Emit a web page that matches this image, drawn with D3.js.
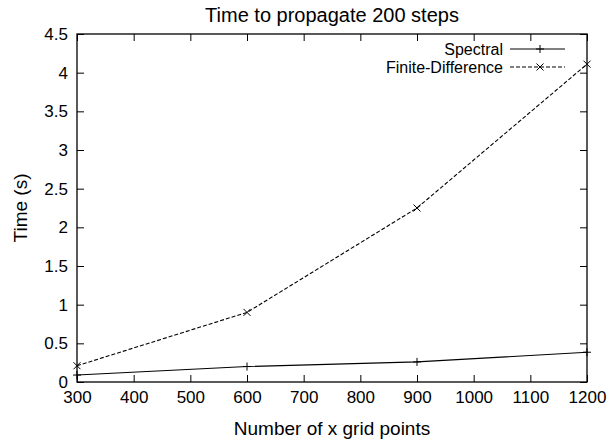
<!DOCTYPE html>
<html>
<head>
<meta charset="utf-8">
<script src="https://cdn.jsdelivr.net/npm/d3@7"></script>
<style>
  body { margin: 0; background: #fff; }
  svg { font-family: "Liberation Sans", Arial, sans-serif; }
  text { fill: #000; }
</style>
</head>
<body>
<svg width="611" height="442"></svg>
<script>
// data
var gridPoints = [300, 600, 900, 1200];
var spectral   = [0.09, 0.20, 0.26, 0.385];
var finiteDiff = [0.21, 0.90, 2.25, 4.11];
var xTicks = [300, 400, 500, 600, 700, 800, 900, 1000, 1100, 1200];
var yTicks = [0, 0.5, 1, 1.5, 2, 2.5, 3, 3.5, 4, 4.5];

var svg = d3.select("svg"),
    margin = {top: 34, right: 24, bottom: 60, left: 77},
    width = 611 - margin.left - margin.right,
    height = 442 - margin.top - margin.bottom,
    g = svg.append("g").attr("transform", "translate(" + margin.left + "," + margin.top + ")");

var x = d3.scaleLinear().domain([300, 1200]).range([0, width]);
var y = d3.scaleLinear().domain([0, 4.5]).range([height, 0]);

var tickLen = 7;

function styleLabels(a) {
    a.select(".domain").remove();
    a.selectAll("text").attr("font-size", 17).attr("fill", "#000").attr("font-family", null);
}

// bottom ticks + labels
g.append("g")
    .attr("transform", "translate(0," + height + ")")
    .call(d3.axisBottom(x).tickValues(xTicks).tickSizeInner(-tickLen).tickSizeOuter(0).tickPadding(9).tickFormat(d3.format("d")))
    .call(styleLabels);
// top mirrored ticks
g.append("g")
    .call(d3.axisTop(x).tickValues(xTicks).tickSizeInner(-tickLen).tickSizeOuter(0).tickFormat(""))
    .call(function(a) { a.select(".domain").remove(); });
// left ticks + labels
g.append("g")
    .call(d3.axisLeft(y).tickValues(yTicks).tickSizeInner(-tickLen).tickSizeOuter(0).tickPadding(9).tickFormat(d3.format("")))
    .call(styleLabels);
// right mirrored ticks
g.append("g")
    .attr("transform", "translate(" + width + ",0)")
    .call(d3.axisRight(y).tickValues(yTicks).tickSizeInner(-tickLen).tickSizeOuter(0).tickFormat(""))
    .call(function(a) { a.select(".domain").remove(); });

// border
g.append("rect")
    .attr("width", width).attr("height", height)
    .attr("fill", "none").attr("stroke", "#000").attr("stroke-width", 1.3);

var line = d3.line()
    .x(function(d, i) { return x(gridPoints[i]); })
    .y(function(d) { return y(d); });

g.append("path").datum(spectral)
    .attr("d", line).attr("fill", "none").attr("stroke", "#000").attr("stroke-width", 1.1);
g.append("path").datum(finiteDiff)
    .attr("d", line).attr("fill", "none").attr("stroke", "#000").attr("stroke-width", 1.1)
    .attr("stroke-dasharray", "4,2");

function plus(sel, cx, cy) {
    sel.append("path")
        .attr("d", "M" + (cx - 4) + "," + cy + "H" + (cx + 4) + "M" + cx + "," + (cy - 4) + "V" + (cy + 4))
        .attr("stroke", "#000").attr("fill", "none");
}
function cross(sel, cx, cy) {
    var r = 3.5;
    sel.append("path")
        .attr("d", "M" + (cx - r) + "," + (cy - r) + "L" + (cx + r) + "," + (cy + r) + "M" + (cx - r) + "," + (cy + r) + "L" + (cx + r) + "," + (cy - r))
        .attr("stroke", "#000").attr("fill", "none");
}

spectral.forEach(function(d, i) { plus(g, x(gridPoints[i]), y(d)); });
finiteDiff.forEach(function(d, i) { cross(g, x(gridPoints[i]), y(d)); });

// legend
var legend = [
    {name: "Spectral", dash: null, mark: plus},
    {name: "Finite-Difference", dash: "4,2", mark: cross}
];
legend.forEach(function(l, i) {
    var ly = 15 + i * 18;
    g.append("text")
        .attr("x", 426).attr("y", ly).attr("dy", "0.35em")
        .attr("text-anchor", "end").attr("font-size", 16)
        .text(l.name);
    g.append("line")
        .attr("x1", 433).attr("x2", 488).attr("y1", ly).attr("y2", ly)
        .attr("stroke", "#000").attr("stroke-dasharray", l.dash);
    l.mark(g, 463, ly);
});

// title and axis labels
svg.append("text")
    .attr("x", margin.left + width / 2).attr("y", 22)
    .attr("text-anchor", "middle").attr("font-size", 20)
    .text("Time to propagate 200 steps");
svg.append("text")
    .attr("x", margin.left + width / 2).attr("y", 435)
    .attr("text-anchor", "middle").attr("font-size", 19)
    .text("Number of x grid points");
svg.append("text")
    .attr("transform", "translate(27," + (margin.top + height / 2) + ") rotate(-90)")
    .attr("text-anchor", "middle").attr("font-size", 19)
    .text("Time (s)");
</script>
</body>
</html>
